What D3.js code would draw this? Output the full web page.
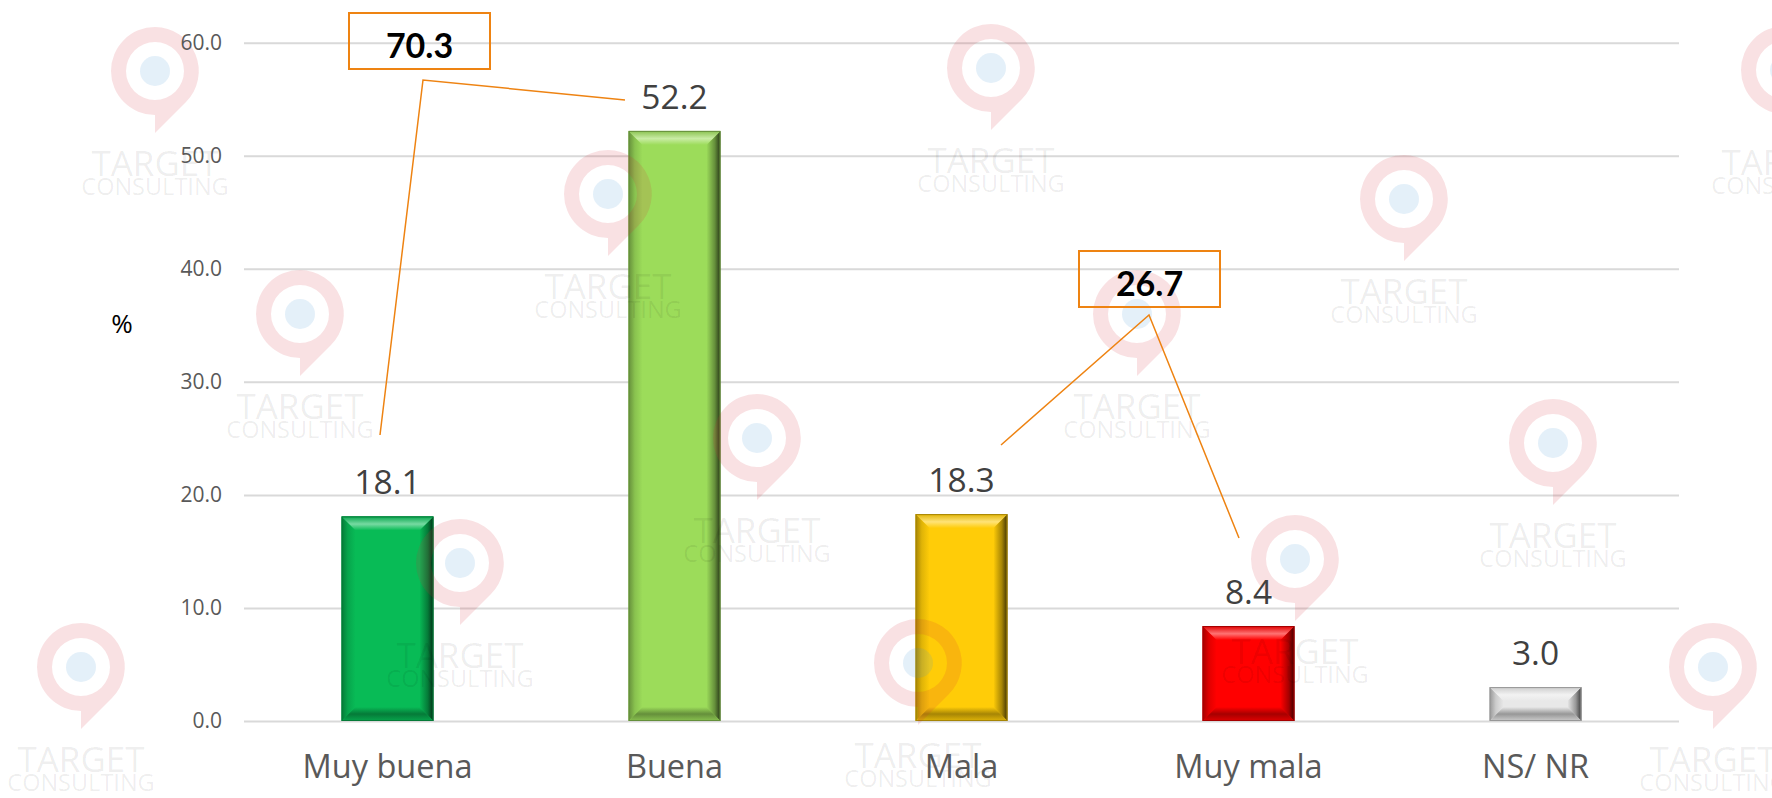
<!DOCTYPE html>
<html>
<head>
    <meta charset="utf-8">
    <script src="https://d3js.org/d3.v7.min.js"></script>
    <title>Muy buena / Muy mala</title>
    <style>
        html, body { margin: 0; background: #fff; }
        svg { display: block; }
        text { font-family: "Open Sans", sans-serif; }
        .grid line { stroke: #d9d9d9; stroke-width: 2px; }
        .grid .domain { display: none; }
        .yaxis text { font-size: 21px; fill: #595959; }
        .yaxis .domain, .yaxis line { display: none; }
        .xaxis text { font-size: 32.5px; fill: #595959; }
        .xaxis .domain, .xaxis line { display: none; }
    </style>
</head>
<body>
    <div id="chart"></div>
    <script>
        // chart data
        var categories = ["Muy buena", "Buena", "Mala", "Muy mala", "NS/ NR"];
        var values = [18.1, 52.2, 18.3, 8.4, 3.0];
        var barColors = ["#08bb56", "#9cdc5a", "#ffcc08", "#ff0000", "#e8e8e8"];
        var yTicks = [0, 10, 20, 30, 40, 50, 60];
        var callouts = ["70.3", "26.7"];

        var width = 1772, height = 798;
        var left = 244, right = 1679, top0 = 42.7, base = 721;

        var svg = d3.select("#chart").append("svg")
            .attr("width", width)
            .attr("height", height);

        var x = d3.scaleBand().domain(categories).range([left, right]).paddingInner(0.68).paddingOuter(0.34);
        var y = d3.scaleLinear().domain([0, 60]).range([base, top0]);

        // gridlines
        svg.append("g").attr("class", "grid")
            .attr("transform", "translate(" + left + ",0)")
            .call(d3.axisLeft(y).tickValues(yTicks).tickSize(-(right - left)).tickFormat(""));

        // bevel gradients
        var defs = svg.append("defs");
        function gradient(id, x2, y2, stops) {
            var g = defs.append("linearGradient").attr("id", id)
                .attr("x1", 0).attr("y1", 0).attr("x2", x2).attr("y2", y2);
            stops.forEach(function(s) {
                g.append("stop").attr("offset", s[0]).attr("stop-color", s[1]);
            });
        }

        var bevel = 14;
        var bars = svg.append("g").selectAll("g")
            .data(categories)
            .enter().append("g");

        bars.each(function(c, i) {
            var g = d3.select(this);
            var col = barColors[i];
            var x0 = x(c), x1 = x0 + x.bandwidth(), y0 = y(values[i]), y1 = base;
            var b = bevel;
            var light = d3.interpolateRgb(col, "#fff")(0.45);
            var dark = d3.interpolateRgb(col, "#000")(0.35);
            var darker = d3.interpolateRgb(col, "#000")(0.75);
            var mid = d3.interpolateRgb(col, "#000")(0.12);

            gradient("t" + i, 0, 1, [[0, mid], [0.55, light], [1, col]]);
            gradient("b" + i, 0, 1, [[0, col], [0.5, dark], [1, mid]]);
            gradient("l" + i, 1, 0, [[0, dark], [0.45, mid], [1, col]]);
            gradient("r" + i, 1, 0, [[0, col], [0.6, dark], [1, darker]]);

            function poly(pts, fill) {
                g.append("polygon")
                    .attr("points", pts.map(function(p) { return p.join(","); }).join(" "))
                    .attr("fill", fill);
            }
            g.append("rect").attr("x", x0).attr("y", y0)
                .attr("width", x1 - x0).attr("height", y1 - y0).attr("fill", col);
            poly([[x0, y0], [x0 + b, y0 + b], [x0 + b, y1 - b], [x0, y1]], "url(#l" + i + ")");
            poly([[x1, y0], [x1 - b, y0 + b], [x1 - b, y1 - b], [x1, y1]], "url(#r" + i + ")");
            poly([[x0, y0], [x1, y0], [x1 - b, y0 + b], [x0 + b, y0 + b]], "url(#t" + i + ")");
            poly([[x0, y1], [x1, y1], [x1 - b, y1 - b], [x0 + b, y1 - b]], "url(#b" + i + ")");
            g.append("rect").attr("x", x0 + 0.5).attr("y", y0 + 0.5)
                .attr("width", x1 - x0 - 1).attr("height", y1 - y0 - 1)
                .attr("fill", "none").attr("stroke", d3.interpolateRgb(col, "#000")(0.35));
        });

        // watermark logos sit on top of the bars
        var marks = [
            [155, 71], [608, 194], [300, 314], [757, 438], [460, 563], [81, 667], [918, 663],
            [991, 68], [1404, 199], [1137, 314], [1295, 559], [1553, 443], [1713, 667], [1785, 70]
        ];
        var wm = svg.append("g").selectAll("g")
            .data(marks)
            .enter().append("g")
            .attr("transform", function(d) { return "translate(" + d[0] + "," + d[1] + ")"; });
        wm.append("path")
            .attr("fill-rule", "evenodd")
            .attr("fill", "#d8283c")
            .attr("fill-opacity", 0.14)
            .attr("d", "M0,-44 A44,44 0 0 1 31,31 L0,62 L0,44 A44,44 0 0 1 0,-44 Z M0,-29 A29,29 0 1 0 0,29 A29,29 0 1 0 0,-29 Z");
        wm.append("circle").attr("r", 15).attr("fill", "#3d94d1").attr("fill-opacity", 0.14);
        wm.append("text").attr("y", 105).attr("text-anchor", "middle")
            .attr("font-size", 35).attr("fill", "#000").attr("fill-opacity", 0.075).text("TARGET");
        wm.append("text").attr("y", 124).attr("text-anchor", "middle")
            .attr("font-size", 23.5).attr("fill", "#000").attr("fill-opacity", 0.075).text("CONSULTING");

        // axes
        svg.append("g").attr("class", "yaxis")
            .attr("transform", "translate(" + (left - 22) + ",0)")
            .call(d3.axisLeft(y).tickValues(yTicks).tickSize(0).tickPadding(0).tickFormat(d3.format(".1f")));

        svg.append("g").attr("class", "xaxis")
            .attr("transform", "translate(0," + (base + 33) + ")")
            .call(d3.axisBottom(x).tickSize(0).tickPadding(0))
            .selectAll("text").attr("dy", "0.75em");

        svg.append("text").attr("x", 122).attr("y", 333).attr("text-anchor", "middle")
            .attr("font-size", 26).attr("fill", "#000").text("%");

        // value labels
        svg.append("g").selectAll("text")
            .data(categories)
            .enter().append("text")
            .attr("x", function(c) { return x(c) + x.bandwidth() / 2; })
            .attr("y", function(c, i) { return y(values[i]) - 22; })
            .attr("text-anchor", "middle")
            .attr("font-size", 33.5)
            .attr("fill", "#404040")
            .text(function(c, i) { return values[i].toFixed(1); });

        // callout boxes with their leader lines
        var boxes = [[349, 13], [1079, 251]];
        var leaders = [
            [[380, 435], [423, 80], [625, 100]],
            [[1001, 445], [1149, 315], [1239, 538]]
        ];
        var line = d3.line();
        leaders.forEach(function(l) {
            svg.append("path").attr("d", line(l))
                .attr("fill", "none").attr("stroke", "#ee8312").attr("stroke-width", 1.5);
        });
        boxes.forEach(function(b, i) {
            svg.append("rect").attr("x", b[0]).attr("y", b[1]).attr("width", 141).attr("height", 56)
                .attr("fill", "none").attr("stroke", "#ee8312").attr("stroke-width", 2);
            svg.append("text").attr("x", b[0] + 70.5).attr("y", b[1] + 45)
                .attr("text-anchor", "middle").attr("font-size", 34).attr("font-weight", 700)
                .style("font-family", "Lato, sans-serif").attr("fill", "#000").text(callouts[i]);
        });
    </script>
</body>
</html>
